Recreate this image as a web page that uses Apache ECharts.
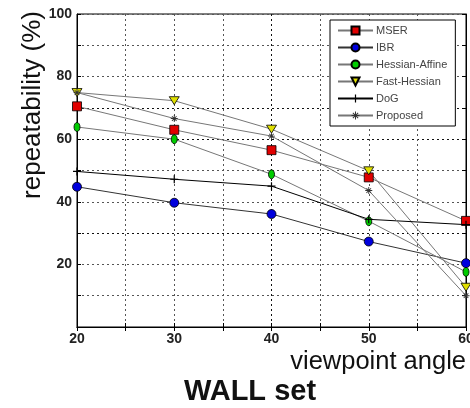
<!DOCTYPE html>
<html lang="en">
<head>
    <meta charset="UTF-8">
    <title>WALL set</title>
    <script src="https://cdn.jsdelivr.net/npm/echarts@6/dist/echarts.min.js"></script>
    <style>
        html, body { margin: 0; padding: 0; background: #fff; }
        #main { width: 470px; height: 408px; }
    </style>
</head>
<body>
    <div id="main"></div>
<script>
    // viewpoint angles
    var angles = [20, 30, 40, 50, 60];
    var seriesNames = ['MSER', 'IBR', 'Hessian-Affine', 'Fast-Hessian', 'DoG', 'Proposed'];

    // repeatability (%)
    var mser = [70.5, 63, 56.5, 47.8, 33.9];
    var ibr = [44.8, 39.7, 36.1, 27.3, 20.4];
    var hessAffine = [63.9, 60, 48.8, 33.8, 17.6];
    var fastHessian = [74.9, 72.3, 63.2, 49.9, 12.7];
    var dog = [49.7, 47.2, 45, 34.4, 32.7];
    var proposed = [74.9, 66.6, 61, 43.6, 10];

    var plusPath = 'path://M3.4,0h1.2v8h-1.2z M0,3.4h8v1.2h-8z';
    var starPath = 'path://M3.5,0h1v8h-1z M0,3.5h8v1h-8z M1,1.7L1.7,1L7,6.3L6.3,7z M6.3,1L7,1.7L1.7,7L1,6.3z';
    var ellipsePath = 'path://M3,0C4.7,0 6,2 6,4.5C6,7 4.7,9 3,9C1.3,9 0,7 0,4.5C0,2 1.3,0 3,0z';

    function pairs(vals) {
        var out = [];
        for (let i = 0; i < angles.length; i++) {
            out.push([angles[i], vals[i]]);
        }
        return out;
    }

    function makeSeries(name, vals, lineColor, symbol, size, fill, border, rotate) {
        return {
            name: name,
            type: 'line',
            data: pairs(vals),
            symbol: symbol,
            symbolSize: size,
            symbolRotate: rotate || 0,
            showAllSymbol: true,
            lineStyle: { color: lineColor, width: 1 },
            itemStyle: { color: fill, borderColor: border, borderWidth: border ? 0.8 : 0 },
            emphasis: { disabled: true }
        };
    }

    var chart = echarts.init(document.getElementById('main'));

    // a few grid lines come out darker in the original
    var ySplit = { width: 1, type: [2, 3],
        color: ['#555', '#555', '#555', '#111', '#555', '#555', '#111', '#111', '#555', '#555', '#555'] };
    var xSplit = { width: 1, type: [2, 3],
        color: ['#555', '#555', '#555', '#555', '#111', '#555', '#555', '#555', '#555'] };

    var option = {
        animation: false,
        backgroundColor: '#fff',
        textStyle: { fontFamily: 'Liberation Sans, Arial, sans-serif' },
        grid: {
            left: 77, right: 4, top: 14, bottom: 81,
            outerBoundsMode: 'none',
            show: true, borderColor: '#000', borderWidth: 1
        },
        legend: {
            orient: 'vertical',
            left: 330,
            top: 20,
            padding: [5, 8, 5, 7],
            backgroundColor: '#fff',
            borderColor: '#000',
            borderWidth: 1,
            itemWidth: 35,
            itemHeight: 10,
            itemGap: 6,
            textStyle: { fontSize: 11, color: '#444', padding: [0, 0, 0, -2] },
            data: seriesNames
        },
        xAxis: [{
            type: 'value',
            min: 20, max: 60, interval: 5,
            axisLine: { lineStyle: { color: '#000' } },
            axisTick: { inside: true, length: 4, lineStyle: { color: '#000' } },
            axisLabel: {
                margin: 5, fontSize: 14, fontWeight: 'bold', color: '#222',
                formatter: function (v) { return v % 10 === 0 ? String(v) : ''; }
            },
            splitLine: { show: true, lineStyle: xSplit }
        }, {
            type: 'value', position: 'top',
            min: 20, max: 60, interval: 5,
            axisLine: { lineStyle: { color: '#000' } },
            axisTick: { inside: true, length: 4, lineStyle: { color: '#000' } },
            axisLabel: { show: false },
            splitLine: { show: false }
        }],
        yAxis: [{
            type: 'value',
            min: 0, max: 100, interval: 10,
            axisLine: { show: true, lineStyle: { color: '#000' } },
            axisTick: { show: true, inside: true, length: 4, lineStyle: { color: '#000' } },
            axisLabel: {
                margin: 5, fontSize: 14, fontWeight: 'bold', color: '#222',
                formatter: function (v) { return (v % 20 === 0 && v > 0) ? String(v) : ''; }
            },
            splitLine: { show: true, lineStyle: ySplit }
        }, {
            type: 'value', position: 'right',
            min: 0, max: 100, interval: 10,
            axisLine: { show: true, lineStyle: { color: '#000' } },
            axisTick: { show: true, inside: true, length: 4, lineStyle: { color: '#000' } },
            axisLabel: { show: false },
            splitLine: { show: false }
        }],
        graphic: [
            {
                type: 'text', x: 33, y: 105, rotation: Math.PI / 2,
                style: {
                    text: 'repeatability (%)', fontSize: 26, fill: '#111',
                    fontFamily: 'Liberation Sans, Arial, sans-serif',
                    align: 'center', verticalAlign: 'middle'
                }
            },
            {
                type: 'text', x: 466, y: 362,
                style: {
                    text: 'viewpoint angle', fontSize: 25.5, fill: '#111',
                    fontFamily: 'Liberation Sans, Arial, sans-serif',
                    align: 'right', verticalAlign: 'middle'
                }
            },
            {
                type: 'text', x: 250, y: 392,
                style: {
                    text: 'WALL set', fontSize: 29, fontWeight: 'bold', fill: '#111',
                    fontFamily: 'Liberation Sans, Arial, sans-serif',
                    align: 'center', verticalAlign: 'middle'
                }
            }
        ],
        series: [
            makeSeries('MSER', mser, '#777', 'rect', 9, '#e00000', '#000'),
            makeSeries('IBR', ibr, '#333', 'circle', 9, '#0000dd', '#000'),
            makeSeries('Hessian-Affine', hessAffine, '#777', ellipsePath, [6, 9], '#00cc00', '#000'),
            makeSeries('Fast-Hessian', fastHessian, '#777', 'triangle', [10, 8], '#e0e000', '#000', 180),
            makeSeries('DoG', dog, '#000', plusPath, 8, '#000', null),
            makeSeries('Proposed', proposed, '#777', starPath, 7, '#333', null)
        ]
    };

    chart.setOption(option);
</script>
</body>
</html>
